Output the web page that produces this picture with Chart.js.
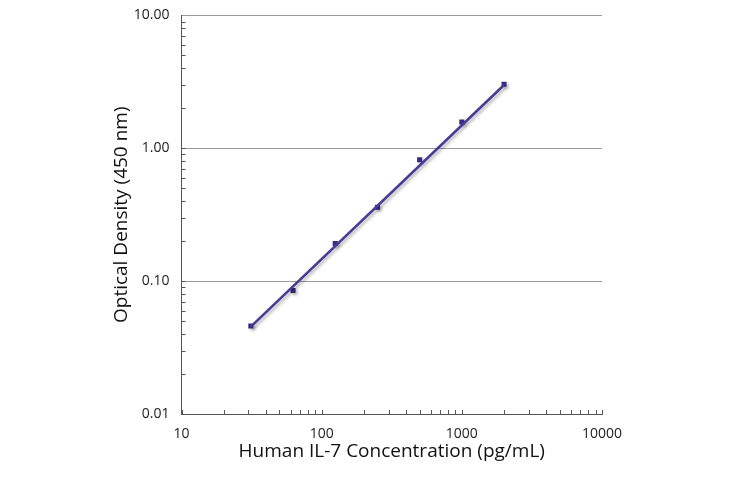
<!DOCTYPE html>
<html>
<head>
<meta charset="utf-8">
<title>Human IL-7 standard curve</title>
<script src="https://cdn.jsdelivr.net/npm/chart.js@4.4.1/dist/chart.umd.min.js"></script>
<style>
  body { margin: 0; background: #fff; }
  #wrap { width: 730px; height: 478px; }
</style>
</head>
<body>
<div id="wrap"><canvas id="myGraph"></canvas></div>
<script>
// standard concentrations (pg/mL) and measured OD at 450 nm
var concValues = [31.25, 62.5, 125, 250, 500, 1000, 2000];
var odValues = [0.046, 0.085, 0.192, 0.36, 0.82, 1.58, 3.04];

// fitted line end points
var fitX = [31.25, 2000];
var fitY = [0.0455, 3.0];

var xTicks = [10, 100, 1000, 10000];
var yTicks = [0.01, 0.1, 1, 10];

var fontName = "'Open Sans', 'DejaVu Sans', sans-serif";

document.addEventListener("DOMContentLoaded", function(){
  makeChart();
});

// soft grey shadow under the line and markers
var shadowPlugin = {
  id: "shadow",
  beforeDatasetsDraw: function(chart){
    let ctx = chart.ctx;
    ctx.save();
    ctx.shadowColor = "rgba(0,0,0,0.28)";
    ctx.shadowBlur = 3;
    ctx.shadowOffsetX = 2;
    ctx.shadowOffsetY = 2;
  },
  afterDatasetsDraw: function(chart){
    chart.ctx.restore();
  }
};

// little inside ticks at 2..9 of every decade
var minorTicks = {
  id: "minorTicks",
  afterDraw: function(chart){
    let ctx = chart.ctx;
    let area = chart.chartArea;
    let xs = chart.scales.x, ys = chart.scales.y;
    ctx.save();
    ctx.strokeStyle = "#555";
    ctx.lineWidth = 1;
    ctx.beginPath();
    for (let d = 0; d < yTicks.length - 1; d++) {
      for (let k = 1; k <= 9; k++) {
        let py = Math.round(ys.getPixelForValue(yTicks[d] * k)) + 0.5;
        ctx.moveTo(area.left, py);
        ctx.lineTo(area.left + 4, py);
      }
    }
    for (let d = 0; d < xTicks.length; d++) {
      for (let k = 1; k <= 9; k++) {
        let v = xTicks[d] * k;
        if (v > xTicks[xTicks.length - 1]) break;
        let px = Math.round(xs.getPixelForValue(v)) + 0.5;
        ctx.moveTo(px, area.bottom);
        ctx.lineTo(px, area.bottom - 4);
      }
    }
    ctx.stroke();
    ctx.restore();
  }
};

function makeChart(){
  let target = document.getElementById("myGraph");
  let points = concValues.map(function(c, i){ return {x: c, y: odValues[i]}; });
  let fit = fitX.map(function(c, i){ return {x: c, y: fitY[i]}; });

  new Chart(target, {
    type: "scatter",
    data: {
      datasets: [{
        label: "fit",
        data: fit,
        showLine: true,
        borderColor: "#4a3a97",
        borderWidth: 2.6,
        pointRadius: 0
      }, {
        label: "IL-7",
        data: points,
        pointStyle: "rect",
        pointRadius: 3.6,
        backgroundColor: "#3a2a7c",
        borderColor: "#3a2a7c",
        borderWidth: 0
      }]
    },
    plugins: [shadowPlugin, minorTicks],
    options: {
      responsive: true,
      maintainAspectRatio: false,
      animation: false,
      layout: { padding: { left: 110, right: 128, top: 15.5, bottom: 15 } },
      plugins: {
        legend: { display: false },
        tooltip: { enabled: false }
      },
      scales: {
        x: {
          type: "logarithmic",
          min: 10,
          max: 10000,
          afterBuildTicks: function(s){ s.ticks = xTicks.map(function(v){ return {value: v}; }); },
          afterFit: function(s){ s.height = 49; },
          grid: { color: "transparent", drawTicks: false },
          border: { display: true, color: "#555", width: 1 },
          ticks: {
            padding: 12,
            color: "#222",
            font: { family: fontName, size: 14 },
            maxRotation: 0,
            callback: function(v){ return String(v); }
          },
          title: {
            display: true,
            text: "Human IL-7 Concentration (pg/mL)",
            color: "#111",
            font: { family: fontName, size: 19 },
            padding: 0
          }
        },
        y: {
          type: "logarithmic",
          min: 0.01,
          max: 10,
          afterBuildTicks: function(s){ s.ticks = yTicks.map(function(v){ return {value: v}; }); },
          afterFit: function(s){ s.width = 71.5; s.paddingTop = 0; s.paddingBottom = 0; },
          grid: { color: "#9a9a9a", lineWidth: 1, drawTicks: false },
          border: { display: true, color: "#555", width: 1 },
          ticks: {
            padding: 12,
            color: "#222",
            font: { family: fontName, size: 14 },
            callback: function(v){ return v.toFixed(2); }
          },
          title: {
            display: true,
            text: "Optical Density (450 nm)",
            color: "#111",
            font: { family: fontName, size: 19 },
            padding: 0
          }
        }
      }
    }
  });
}
</script>
</body>
</html>
